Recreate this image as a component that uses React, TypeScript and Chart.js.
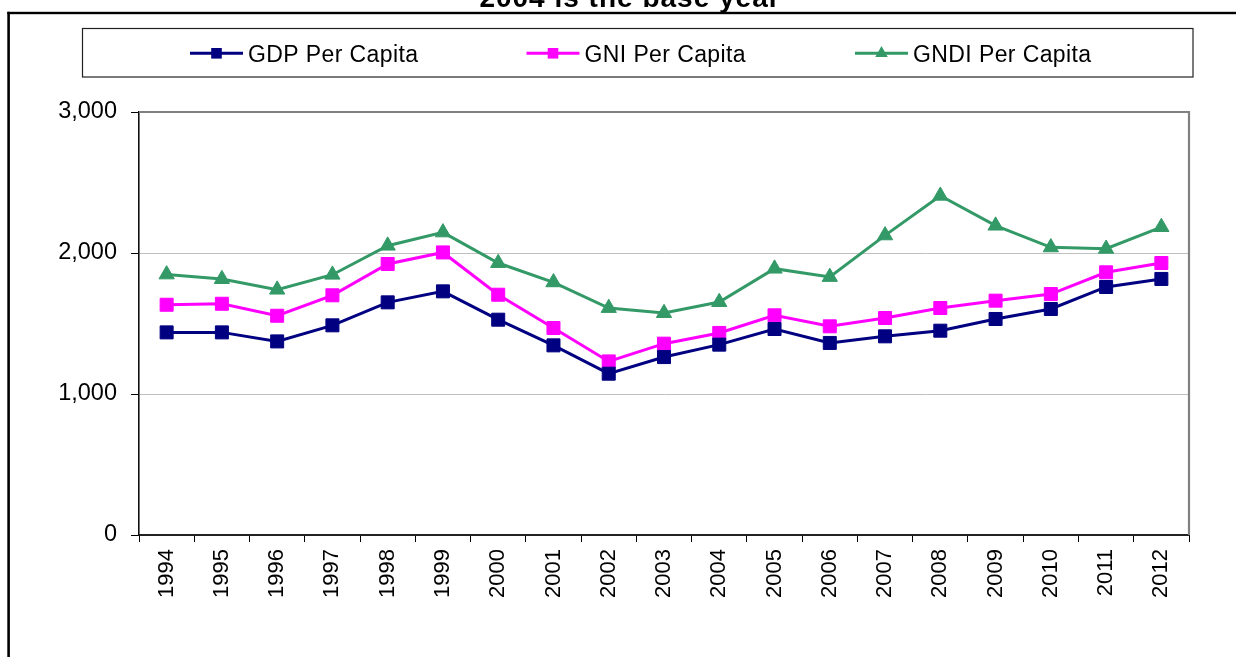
import React, { useEffect, useRef } from 'react';
import { Chart, registerables } from 'chart.js';

Chart.register(...registerables);

// ---- data ----
const chartTitle = '2004 is the base year';
const years = ['1994', '1995', '1996', '1997', '1998', '1999', '2000', '2001', '2002', '2003', '2004', '2005', '2006', '2007', '2008', '2009', '2010', '2011', '2012'];
const gdpPerCapita = [1437, 1437, 1373, 1487, 1650, 1728, 1527, 1345, 1144, 1262, 1350, 1461, 1362, 1409, 1449, 1532, 1603, 1759, 1816];
const gniPerCapita = [1633, 1640, 1555, 1700, 1922, 2004, 1704, 1468, 1231, 1357, 1433, 1558, 1480, 1539, 1610, 1662, 1709, 1863, 1929];
const gndiPerCapita = [1848, 1815, 1740, 1846, 2052, 2146, 1929, 1792, 1610, 1574, 1652, 1889, 1830, 2125, 2406, 2194, 2040, 2030, 2184];
const seriesNames = ['GDP Per Capita', 'GNI Per Capita', 'GNDI Per Capita'];
const yMin = 0;
const yMax = 3000;
const yStep = 1000;

const FONT = "'Liberation Sans', Arial, Helvetica, sans-serif";

const colors = ['#000080', '#FF00FF', '#339966'];
const styles = ['rect', 'rect', 'triangle'];

const legendStarts = [190, 526.5, 855];

const framePlugin = {
  id: 'frame',
  beforeDatasetsDraw(chart: any) {
    const { ctx, chartArea: a } = chart;
    ctx.save();
    ctx.strokeStyle = '#808080';
    ctx.lineWidth = 2.2;
    ctx.beginPath();
    ctx.moveTo(a.left, a.top);
    ctx.lineTo(a.right, a.top);
    ctx.lineTo(a.right, a.bottom);
    ctx.stroke();
    ctx.restore();
  },
  afterDraw(chart: any) {
    const { ctx } = chart;
    ctx.save();
    // outer frame
    ctx.fillStyle = '#000';
    ctx.fillRect(7.3, 11.8, 1240, 2.4);
    ctx.fillRect(7.3, 11.8, 2.6, 700);

    // title (clipped at top like the reference)
    ctx.font = `bold 28px ${FONT}`;
    (ctx as any).letterSpacing = '1px';
    ctx.textAlign = 'center';
    ctx.textBaseline = 'alphabetic';
    ctx.fillStyle = '#000';
    ctx.fillText(chartTitle, 630, 7);

    // legend box
    (ctx as any).letterSpacing = '0px';
    ctx.strokeStyle = '#222';
    ctx.lineWidth = 1.2;
    ctx.strokeRect(82.5, 28.5, 1110.5, 48.5);

    const ly = 53.3;
    chart.data.datasets.forEach((ds: any, i: number) => {
      const x0 = legendStarts[i];
      ctx.strokeStyle = ds.borderColor;
      ctx.fillStyle = ds.borderColor;
      ctx.lineWidth = 3;
      ctx.beginPath();
      ctx.moveTo(x0, ly);
      ctx.lineTo(x0 + 53, ly);
      ctx.stroke();
      const cx = x0 + 26.5;
      if (ds.pointStyle === 'triangle') {
        const r = 7.2;
        ctx.beginPath();
        ctx.moveTo(cx, ly - r);
        ctx.lineTo(cx + r * 0.866, ly + r * 0.5);
        ctx.lineTo(cx - r * 0.866, ly + r * 0.5);
        ctx.closePath();
        ctx.fill();
      } else {
        ctx.fillRect(cx - 5.3, ly - 5.3, 10.6, 10.6);
      }
      ctx.fillStyle = '#000';
      ctx.font = `23px ${FONT}`;
      (ctx as any).letterSpacing = '0.4px';
      ctx.textAlign = 'left';
      ctx.textBaseline = 'alphabetic';
      ctx.fillText(ds.label, x0 + 58, 61.8);
      (ctx as any).letterSpacing = '0px';
    });
    ctx.restore();
  },
};

export default function App() {
  const ref = useRef<HTMLCanvasElement>(null);

  useEffect(() => {
    const canvas = ref.current;
    if (!canvas) return;
    const seriesValues = [gdpPerCapita, gniPerCapita, gndiPerCapita];
    const chart = new Chart(canvas, {
      type: 'line',
      data: {
        labels: years,
        datasets: seriesValues.map((vals, i) => ({
          label: seriesNames[i],
          data: vals,
          borderColor: colors[i],
          backgroundColor: colors[i],
          borderWidth: 3,
          pointStyle: styles[i] as any,
          pointRadius: styles[i] === 'triangle' ? 8.8 : 9.2,
          pointBackgroundColor: colors[i],
          pointBorderColor: colors[i],
          pointBorderWidth: 1,
          tension: 0,
          fill: false,
          clip: false as any,
        })),
      },
      options: {
        animation: false,
        responsive: false,
        devicePixelRatio: 1,
        events: [],
        layout: { padding: { left: 0, top: 112, right: 47, bottom: 0 } },
        plugins: {
          legend: { display: false },
          title: { display: false },
          tooltip: { enabled: false },
        },
        scales: {
          x: {
            type: 'category',
            offset: true,
            grid: {
              display: true,
              offset: true,
              drawOnChartArea: false,
              drawTicks: true,
              tickLength: 7,
              tickColor: '#000',
              tickWidth: 1,
            },
            border: { display: true, color: '#222', width: 2 },
            ticks: {
              autoSkip: false,
              minRotation: 90,
              maxRotation: 90,
              padding: 7,
              color: '#000',
              font: { family: FONT, size: 22 },
            },
            afterFit(scale: any) {
              scale.height = 122;
            },
          },
          y: {
            type: 'linear',
            min: yMin,
            max: yMax,
            grid: {
              color: '#c0c0c0',
              lineWidth: 1,
              drawTicks: true,
              tickLength: 8,
              tickColor: '#000',
              tickWidth: 1,
            },
            border: { display: true, color: '#111', width: 1.6 },
            ticks: {
              stepSize: yStep,
              padding: 14,
              color: '#000',
              font: { family: FONT, size: 23.5 },
              callback: (v: any) => Number(v).toLocaleString('en-US'),
            },
            afterFit(scale: any) {
              scale.width = 139;
            },
          },
        },
      },
      plugins: [framePlugin],
    });
    return () => chart.destroy();
  }, []);

  return (
    <div style={{ position: 'fixed', left: 0, top: 0, width: 1236, height: 657, background: '#fff' }}>
      <canvas ref={ref} width={1236} height={657} style={{ display: 'block', width: 1236, height: 657 }} />
    </div>
  );
}
